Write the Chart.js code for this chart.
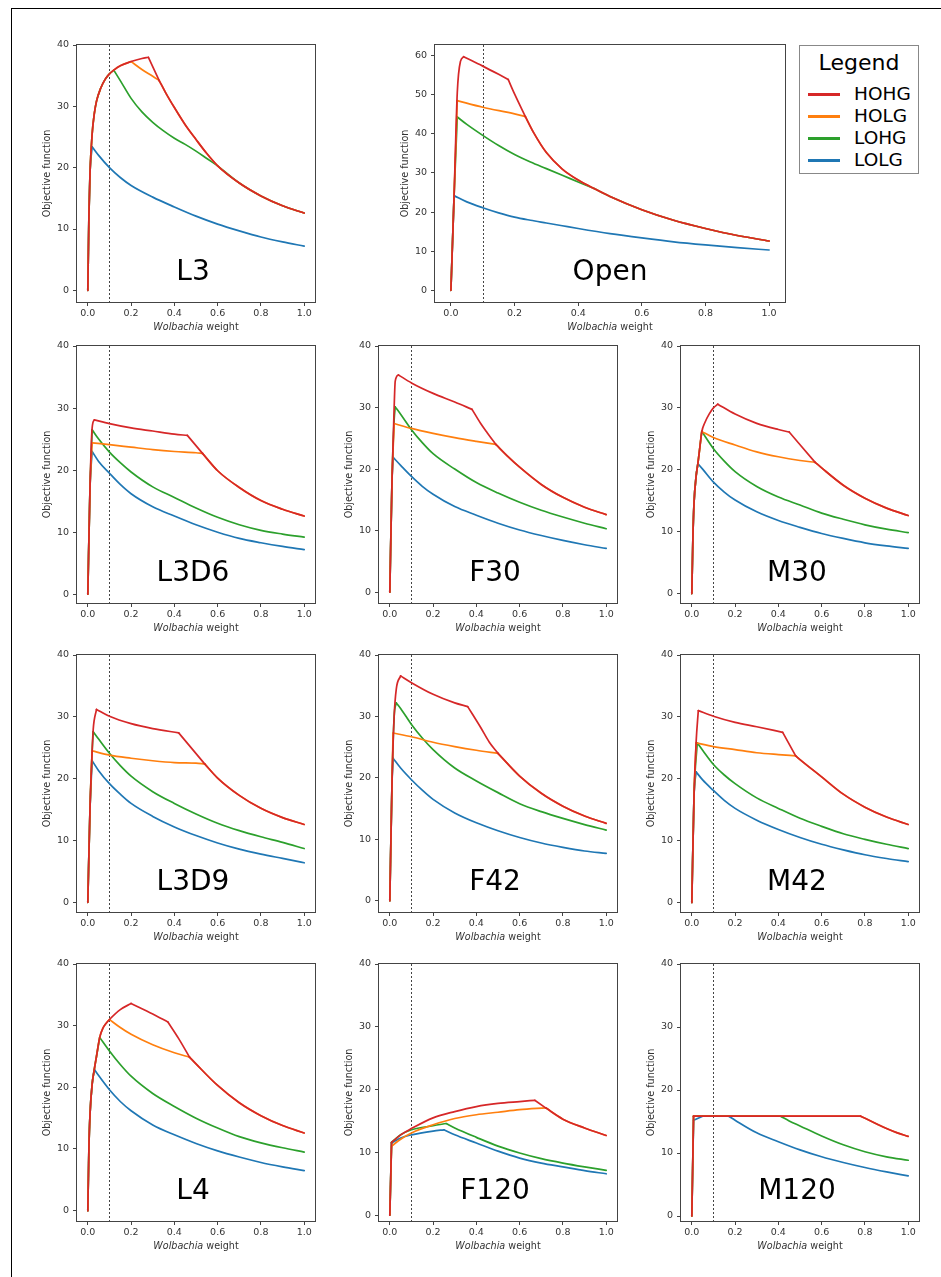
<!DOCTYPE html>
<html><head><meta charset="utf-8">
<script src="https://cdn.jsdelivr.net/npm/chart.js@4.4.1/dist/chart.umd.min.js"></script>
<style>
html,body{margin:0;padding:0;background:#fff;width:941px;height:1277px;overflow:hidden;font-family:'DejaVu Sans',sans-serif;position:relative;}
#frame{position:absolute;left:11px;top:8px;width:940px;height:1280px;border-top:1px solid #000;border-left:1px solid #000;}
canvas{position:absolute;}
.lbl{position:absolute;transform:translate(-50%,-50%);font-size:28px;line-height:1;white-space:nowrap;color:#000;}
.xt{position:absolute;transform:translate(-50%,-50%);font-size:9.6px;line-height:1;white-space:nowrap;color:#333;}
#legend{position:absolute;left:799px;top:45px;width:118px;height:127px;border:1px solid #888;background:#fff;}
.lgt{position:absolute;left:0;width:100%;text-align:center;transform:translateY(-50%);font-size:22px;line-height:1;color:#000;}
.lgl{position:absolute;left:8px;width:32px;height:3px;margin-top:-1.5px;}
.lgx{position:absolute;left:54px;font-size:18.5px;line-height:1;transform:translateY(-50%);color:#000;}
</style></head><body>
<div id="frame"></div>
<script>
// ---------- data ----------
const panelNames = ['L3','Open','L3D6','F30','M30','L3D9','F42','M42','L4','F120','M120'];
const seriesNames = ['HOHG','HOLG','LOHG','LOLG'];
const seriesColors = ['#d62728','#ff7f0e','#2ca02c','#1f77b4'];
const xTicks = [0, 0.2, 0.4, 0.6, 0.8, 1.0];
const yTicks40 = [0, 10, 20, 30, 40];
const yTicksOpen = [0, 10, 20, 30, 40, 50, 60];
const xMin = -0.05, xMax = 1.05;
const yMins = [-1.9, -2.99, -1.41, -1.77, -1.53, -1.56, -1.83, -1.55, -1.68, -0.92, -0.79];
const yMaxs = [40, 62.7, 40, 40, 40, 40, 40, 40, 40, 40, 40];
const markerX = 0.1;

const L3_HOHG = [[0,0],[0.005,12],[0.01,19],[0.02,25.5],[0.03,28.8],[0.04,30.8],[0.06,33.0],[0.08,34.4],[0.1,35.3],[0.12,35.9],[0.15,36.6],[0.2,37.3],[0.25,37.8],[0.28,38.0],[0.33,34.2],[0.36,32.2],[0.4,29.8],[0.45,27.0],[0.5,24.6],[0.55,22.3],[0.6,20.3],[0.7,17.5],[0.8,15.4],[0.9,13.8],[1.0,12.6]];
const L3_HOLG = [[0,0],[0.005,12],[0.01,19],[0.02,25.5],[0.03,28.8],[0.04,30.8],[0.06,33.0],[0.08,34.4],[0.1,35.3],[0.12,35.9],[0.15,36.6],[0.2,37.3],[0.25,36.0],[0.3,34.9],[0.33,34.2],[0.36,32.2],[0.4,29.8],[0.45,27.0],[0.5,24.6],[0.55,22.3],[0.6,20.3],[0.7,17.5],[0.8,15.4],[0.9,13.8],[1.0,12.6]];
const L3_LOHG = [[0,0],[0.005,12],[0.01,19],[0.02,25.5],[0.03,28.8],[0.04,30.8],[0.06,33.0],[0.08,34.4],[0.1,35.3],[0.12,35.9],[0.15,34.2],[0.2,31.3],[0.25,29.1],[0.3,27.4],[0.35,26.0],[0.4,24.8],[0.45,23.8],[0.5,22.7],[0.55,21.5],[0.6,20.3],[0.7,17.5],[0.8,15.4],[0.9,13.8],[1.0,12.6]];
const L3_LOLG = [[0,0],[0.005,12],[0.01,19],[0.02,23.4],[0.05,22.0],[0.1,20.0],[0.15,18.4],[0.2,17.1],[0.3,15.2],[0.4,13.6],[0.5,12.1],[0.6,10.8],[0.7,9.7],[0.8,8.7],[0.9,7.9],[1.0,7.2]];

const Open_HOHG = [[0,0],[0.01,24.2],[0.02,50.5],[0.03,58.5],[0.04,59.7],[0.1,57.3],[0.15,55.2],[0.18,53.9],[0.2,50.2],[0.234,44.4],[0.26,40.3],[0.3,35.2],[0.35,31.0],[0.4,28.2],[0.45,26.0],[0.5,24.0],[0.6,20.6],[0.7,17.9],[0.8,15.8],[0.9,14.0],[1.0,12.6]];
const Open_HOLG = [[0,0],[0.01,24.2],[0.02,48.5],[0.1,46.8],[0.2,45.1],[0.234,44.4],[0.26,40.3],[0.3,35.2],[0.35,31.0],[0.4,28.2],[0.45,26.0],[0.5,24.0],[0.6,20.6],[0.7,17.9],[0.8,15.8],[0.9,14.0],[1.0,12.6]];
const Open_LOHG = [[0,0],[0.01,24.2],[0.02,44.3],[0.05,42.4],[0.1,39.6],[0.15,37.0],[0.2,34.7],[0.25,32.8],[0.3,31.1],[0.35,29.4],[0.4,27.7],[0.45,26.0],[0.5,24.0],[0.6,20.6],[0.7,17.9],[0.8,15.8],[0.9,14.0],[1.0,12.6]];
const Open_LOLG = [[0,0],[0.01,24.2],[0.05,22.6],[0.1,21.1],[0.15,19.8],[0.2,18.7],[0.25,17.9],[0.3,17.2],[0.35,16.5],[0.4,15.8],[0.5,14.5],[0.6,13.4],[0.7,12.4],[0.8,11.6],[0.9,10.9],[1.0,10.3]];

const L3D6_HOHG = [[0,0],[0.01,17],[0.02,26.8],[0.03,28.1],[0.1,27.5],[0.2,26.8],[0.3,26.3],[0.4,25.8],[0.46,25.6],[0.53,22.7],[0.6,19.9],[0.7,17.2],[0.8,15.1],[0.9,13.7],[1.0,12.6]];
const L3D6_HOLG = [[0,0],[0.01,17],[0.02,24.4],[0.1,24.1],[0.2,23.7],[0.3,23.3],[0.4,23.0],[0.5,22.8],[0.53,22.7],[0.6,19.9],[0.7,17.2],[0.8,15.1],[0.9,13.7],[1.0,12.6]];
const L3D6_LOHG = [[0,0],[0.01,17],[0.02,26.5],[0.05,25.0],[0.1,22.9],[0.15,21.2],[0.2,19.7],[0.3,17.3],[0.4,15.6],[0.5,13.9],[0.6,12.4],[0.7,11.2],[0.8,10.3],[0.9,9.7],[1.0,9.2]];
const L3D6_LOLG = [[0,0],[0.01,17],[0.02,23.0],[0.05,21.4],[0.1,19.5],[0.15,17.7],[0.2,16.2],[0.3,14.1],[0.4,12.6],[0.5,11.2],[0.6,10.0],[0.7,9.0],[0.8,8.3],[0.9,7.7],[1.0,7.2]];

const F30_HOHG = [[0,0],[0.01,18],[0.02,30],[0.025,34.3],[0.04,35.3],[0.1,34.0],[0.2,32.3],[0.3,30.9],[0.38,29.7],[0.42,27.4],[0.45,25.9],[0.49,24.0],[0.55,21.9],[0.6,20.3],[0.7,17.5],[0.8,15.4],[0.9,13.8],[1.0,12.6]];
const F30_HOLG = [[0,0],[0.01,18],[0.02,27.4],[0.1,26.6],[0.2,25.8],[0.3,25.1],[0.4,24.5],[0.49,24.0],[0.55,21.9],[0.6,20.3],[0.7,17.5],[0.8,15.4],[0.9,13.8],[1.0,12.6]];
const F30_LOHG = [[0,0],[0.01,18],[0.02,28.0],[0.025,30.1],[0.05,28.9],[0.1,26.4],[0.15,24.3],[0.2,22.5],[0.3,20.0],[0.4,17.8],[0.5,16.1],[0.6,14.6],[0.7,13.3],[0.8,12.2],[0.9,11.2],[1.0,10.3]];
const F30_LOLG = [[0,0],[0.01,18],[0.015,21.9],[0.05,20.6],[0.1,18.8],[0.15,17.2],[0.2,15.9],[0.3,13.9],[0.4,12.5],[0.5,11.2],[0.6,10.1],[0.7,9.2],[0.8,8.4],[0.9,7.7],[1.0,7.1]];

const M30_HOHG = [[0,0],[0.005,9],[0.01,14.5],[0.02,19.0],[0.028,21.0],[0.035,23.0],[0.046,26.1],[0.06,27.6],[0.08,29.0],[0.1,30.0],[0.12,30.6],[0.2,29.0],[0.3,27.5],[0.4,26.5],[0.45,26.1],[0.57,21.2],[0.6,20.3],[0.7,17.5],[0.8,15.4],[0.9,13.8],[1.0,12.6]];
const M30_HOLG = [[0,0],[0.005,9],[0.01,14.5],[0.02,19.0],[0.028,21.0],[0.035,23.0],[0.046,26.2],[0.1,25.2],[0.2,24.0],[0.3,22.9],[0.4,22.1],[0.5,21.5],[0.57,21.2],[0.6,20.3],[0.7,17.5],[0.8,15.4],[0.9,13.8],[1.0,12.6]];
const M30_LOHG = [[0,0],[0.005,9],[0.01,14.5],[0.02,19.0],[0.028,21.0],[0.035,23.0],[0.046,26.2],[0.1,23.4],[0.15,21.4],[0.2,19.7],[0.3,17.3],[0.4,15.6],[0.5,14.3],[0.6,13.0],[0.7,12.0],[0.8,11.1],[0.9,10.4],[1.0,9.85]];
const M30_LOLG = [[0,0],[0.005,9],[0.01,14.5],[0.02,19.0],[0.028,21.0],[0.05,20.1],[0.1,18.0],[0.15,16.4],[0.2,15.1],[0.3,13.2],[0.4,11.8],[0.5,10.7],[0.6,9.7],[0.7,8.9],[0.8,8.2],[0.9,7.7],[1.0,7.3]];

const L3D9_HOHG = [[0,0],[0.01,15],[0.02,24.5],[0.025,28.0],[0.04,31.2],[0.1,30.1],[0.2,28.9],[0.3,28.1],[0.42,27.4],[0.54,22.4],[0.6,20.1],[0.7,17.3],[0.8,15.2],[0.9,13.7],[1.0,12.6]];
const L3D9_HOLG = [[0,0],[0.01,15],[0.02,24.5],[0.1,23.8],[0.2,23.3],[0.3,22.9],[0.4,22.6],[0.5,22.5],[0.54,22.4],[0.6,20.1],[0.7,17.3],[0.8,15.2],[0.9,13.7],[1.0,12.6]];
const L3D9_LOHG = [[0,0],[0.01,15],[0.02,24.5],[0.025,27.6],[0.05,26.4],[0.1,24.1],[0.15,22.1],[0.2,20.4],[0.3,17.9],[0.4,16.0],[0.5,14.3],[0.6,12.8],[0.7,11.6],[0.8,10.6],[0.9,9.7],[1.0,8.7]];
const L3D9_LOLG = [[0,0],[0.01,15],[0.02,22.9],[0.05,21.3],[0.1,19.2],[0.15,17.5],[0.2,16.0],[0.3,13.9],[0.4,12.2],[0.5,10.8],[0.6,9.6],[0.7,8.6],[0.8,7.8],[0.9,7.1],[1.0,6.4]];

const F42_HOHG = [[0,0],[0.01,19],[0.02,30],[0.03,34.5],[0.05,36.6],[0.1,35.5],[0.2,33.6],[0.3,32.2],[0.36,31.6],[0.42,28.2],[0.46,25.8],[0.5,24.0],[0.6,20.3],[0.7,17.5],[0.8,15.4],[0.9,13.8],[1.0,12.6]];
const F42_HOLG = [[0,0],[0.01,19],[0.015,27.3],[0.1,26.7],[0.2,25.8],[0.3,25.1],[0.4,24.5],[0.5,24.0],[0.6,20.3],[0.7,17.5],[0.8,15.4],[0.9,13.8],[1.0,12.6]];
const F42_LOHG = [[0,0],[0.01,19],[0.02,30],[0.03,32.2],[0.05,31.3],[0.1,28.7],[0.15,26.5],[0.2,24.6],[0.3,21.6],[0.4,19.5],[0.5,17.6],[0.6,15.8],[0.7,14.5],[0.8,13.4],[0.9,12.4],[1.0,11.5]];
const F42_LOLG = [[0,0],[0.01,19],[0.015,23.2],[0.05,21.6],[0.1,19.7],[0.15,18.0],[0.2,16.5],[0.3,14.3],[0.4,12.7],[0.5,11.4],[0.6,10.3],[0.7,9.4],[0.8,8.7],[0.9,8.1],[1.0,7.7]];

const M42_HOHG = [[0,0],[0.01,17],[0.02,26.0],[0.03,31.0],[0.1,30.1],[0.2,29.1],[0.3,28.4],[0.42,27.5],[0.48,23.7],[0.5,23.1],[0.6,20.3],[0.7,17.5],[0.8,15.4],[0.9,13.8],[1.0,12.6]];
const M42_HOLG = [[0,0],[0.01,17],[0.02,25.8],[0.1,25.2],[0.2,24.7],[0.3,24.2],[0.4,23.9],[0.48,23.7],[0.5,23.1],[0.6,20.3],[0.7,17.5],[0.8,15.4],[0.9,13.8],[1.0,12.6]];
const M42_LOHG = [[0,0],[0.01,17],[0.025,25.8],[0.05,24.6],[0.1,22.3],[0.15,20.6],[0.2,19.2],[0.3,16.9],[0.4,15.2],[0.5,13.6],[0.6,12.3],[0.7,11.1],[0.8,10.2],[0.9,9.4],[1.0,8.7]];
const M42_LOLG = [[0,0],[0.01,17],[0.02,21.1],[0.05,19.8],[0.1,18.1],[0.15,16.5],[0.2,15.2],[0.3,13.3],[0.4,11.8],[0.5,10.5],[0.6,9.4],[0.7,8.5],[0.8,7.7],[0.9,7.1],[1.0,6.6]];

const L4_HOHG = [[0,0],[0.005,10],[0.01,15.5],[0.02,20.5],[0.03,22.9],[0.04,25.0],[0.055,28.1],[0.07,29.6],[0.085,30.4],[0.1,31.0],[0.15,32.6],[0.2,33.6],[0.3,31.9],[0.37,30.6],[0.42,27.9],[0.47,24.9],[0.5,23.8],[0.6,20.3],[0.7,17.5],[0.8,15.4],[0.9,13.8],[1.0,12.6]];
const L4_HOLG = [[0,0],[0.005,10],[0.01,15.5],[0.02,20.5],[0.03,22.9],[0.04,25.0],[0.055,28.1],[0.07,29.6],[0.085,30.4],[0.1,31.0],[0.15,29.7],[0.2,28.6],[0.3,26.9],[0.4,25.6],[0.47,24.9],[0.5,23.8],[0.6,20.3],[0.7,17.5],[0.8,15.4],[0.9,13.8],[1.0,12.6]];
const L4_LOHG = [[0,0],[0.005,10],[0.01,15.5],[0.02,20.5],[0.03,22.9],[0.04,25.0],[0.055,28.1],[0.1,25.9],[0.15,23.7],[0.2,21.8],[0.3,19.0],[0.4,16.9],[0.5,15.0],[0.6,13.4],[0.7,12.0],[0.8,11.0],[0.9,10.2],[1.0,9.5]];
const L4_LOLG = [[0,0],[0.005,10],[0.01,15.5],[0.02,20.5],[0.03,22.9],[0.05,21.9],[0.1,19.6],[0.15,17.7],[0.2,16.2],[0.3,13.9],[0.4,12.3],[0.5,10.9],[0.6,9.7],[0.7,8.7],[0.8,7.8],[0.9,7.1],[1.0,6.5]];

const F120_HOHG = [[0,0],[0.008,11.6],[0.05,12.8],[0.1,13.8],[0.2,15.5],[0.3,16.5],[0.4,17.3],[0.5,17.8],[0.6,18.1],[0.67,18.3],[0.72,17.1],[0.8,15.3],[0.9,13.9],[1.0,12.7]];
const F120_HOLG = [[0,0],[0.008,11.0],[0.05,12.1],[0.1,13.1],[0.2,14.4],[0.3,15.4],[0.4,16.0],[0.5,16.4],[0.6,16.8],[0.72,17.1],[0.8,15.3],[0.9,13.9],[1.0,12.7]];
const F120_LOHG = [[0,0],[0.008,11.6],[0.05,12.8],[0.1,13.6],[0.2,14.25],[0.26,14.6],[0.3,13.9],[0.4,12.4],[0.5,11.0],[0.6,9.9],[0.7,9.0],[0.8,8.3],[0.9,7.7],[1.0,7.15]];
const F120_LOLG = [[0,0],[0.008,11.5],[0.05,12.3],[0.1,12.8],[0.2,13.4],[0.25,13.6],[0.3,12.8],[0.4,11.5],[0.5,10.2],[0.6,9.1],[0.7,8.3],[0.8,7.7],[0.9,7.1],[1.0,6.6]];

const M120_HOHG = [[0,0],[0.008,15.85],[0.78,15.85],[0.85,14.7],[0.9,13.9],[0.95,13.2],[1.0,12.65]];
const M120_HOLG = [[0,0],[0.008,15.85],[0.78,15.85],[0.85,14.7],[0.9,13.9],[0.95,13.2],[1.0,12.65]];
const M120_LOHG = [[0,0],[0.008,15.85],[0.41,15.85],[0.45,15.1],[0.5,14.3],[0.6,12.7],[0.7,11.3],[0.8,10.2],[0.9,9.4],[1.0,8.85]];
const M120_LOLG = [[0,0],[0.008,15.2],[0.05,15.85],[0.17,15.85],[0.2,15.2],[0.3,13.2],[0.4,11.8],[0.5,10.5],[0.6,9.4],[0.7,8.5],[0.8,7.7],[0.9,7.0],[1.0,6.36]];

// x positions of sharp corners of each curve (HOHG, HOLG, LOHG, LOLG)
const L3_kinks   = [[0.28,0.33],[0.2,0.33],[0.12,0.6],[0.02]];
const Open_kinks = [[0.04,0.18,0.234],[0.02,0.234],[0.02,0.45],[0.01]];
const L3D6_kinks = [[0.03,0.46,0.53],[0.02,0.53],[0.02],[0.02]];
const F30_kinks  = [[0.04,0.38,0.49],[0.02,0.49],[0.025],[0.015]];
const M30_kinks  = [[0.12,0.45,0.57],[0.046,0.57],[0.046],[0.028]];
const L3D9_kinks = [[0.04,0.42,0.54],[0.02,0.54],[0.025],[0.02]];
const F42_kinks  = [[0.05,0.36,0.5],[0.015,0.5],[0.03],[0.015]];
const M42_kinks  = [[0.03,0.42,0.48],[0.02,0.48],[0.025],[0.02]];
const L4_kinks   = [[0.2,0.37,0.47],[0.1,0.47],[0.055],[0.03]];
const F120_kinks = [[0.008,0.67,0.72],[0.008,0.72],[0.008,0.26],[0.008,0.25]];
const M120_kinks = [[0.008,0.78],[0.008,0.78],[0.008,0.41],[0.008,0.05,0.17]];

const panelSeries = [
  [L3_HOHG, L3_HOLG, L3_LOHG, L3_LOLG],
  [Open_HOHG, Open_HOLG, Open_LOHG, Open_LOLG],
  [L3D6_HOHG, L3D6_HOLG, L3D6_LOHG, L3D6_LOLG],
  [F30_HOHG, F30_HOLG, F30_LOHG, F30_LOLG],
  [M30_HOHG, M30_HOLG, M30_LOHG, M30_LOLG],
  [L3D9_HOHG, L3D9_HOLG, L3D9_LOHG, L3D9_LOLG],
  [F42_HOHG, F42_HOLG, F42_LOHG, F42_LOLG],
  [M42_HOHG, M42_HOLG, M42_LOHG, M42_LOLG],
  [L4_HOHG, L4_HOLG, L4_LOHG, L4_LOLG],
  [F120_HOHG, F120_HOLG, F120_LOHG, F120_LOLG],
  [M120_HOHG, M120_HOLG, M120_LOHG, M120_LOLG]
];
const panelKinks = [L3_kinks, Open_kinks, L3D6_kinks, F30_kinks, M30_kinks, L3D9_kinks, F42_kinks, M42_kinks, L4_kinks, F120_kinks, M120_kinks];

// ---------- layout (plot-area left, top, width) ----------
const layout = [[77,45,238],[435,45,350],[77,346,238],[379,346,238],[681,346,238],[77,655,238],[379,655,238],[681,655,238],[77,964,238],[379,964,238],[681,964,238]];
const PLOT_H = 257, YW = 45, PT = 10, PR = 14, XH = 22;

Chart.defaults.font.family = "'DejaVu Sans', sans-serif";
Chart.defaults.color = '#333';

function splitAtKinks(pts, kinks) {
  const pieces = [];
  let cur = [];
  pts.forEach(p => {
    cur.push(p);
    if (cur.length > 1 && kinks.some(k => Math.abs(k - p[0]) < 1e-9)) { pieces.push(cur); cur = [p]; }
  });
  if (cur.length > 1) pieces.push(cur);
  return pieces;
}

const panelDecor = {
  id: 'panelDecor',
  beforeDatasetsDraw(chart) {
    const {ctx, chartArea: a, scales: {x}} = chart;
    const px = Math.round(x.getPixelForValue(markerX)) + 0.5;
    ctx.save();
    ctx.strokeStyle = '#444'; ctx.lineWidth = 1; ctx.setLineDash([2, 2]);
    ctx.beginPath(); ctx.moveTo(px, a.top); ctx.lineTo(px, a.bottom); ctx.stroke();
    ctx.restore();
  },
  afterDraw(chart) {
    const {ctx, chartArea: a} = chart;
    ctx.save();
    ctx.strokeStyle = '#444'; ctx.lineWidth = 1;
    const l = Math.round(a.left) - 0.5, t = Math.round(a.top) - 0.5;
    const r = Math.round(a.right) + 0.5, b = Math.round(a.bottom) + 0.5;
    ctx.strokeRect(l, t, r - l, b - t);
    ctx.restore();
  }
};

panelNames.forEach((name, i) => {
  const [pl, pt, pw] = layout[i];
  const W = YW + pw + PR, H = PT + PLOT_H + XH;
  const cv = document.createElement('canvas');
  cv.width = W; cv.height = H;
  cv.style.left = (pl - YW) + 'px'; cv.style.top = (pt - PT) + 'px';
  cv.style.width = W + 'px'; cv.style.height = H + 'px';
  document.body.appendChild(cv);
  const yT = i === 1 ? yTicksOpen : yTicks40;
  const gridOpt = {display: true, drawOnChartArea: false, drawTicks: true, tickLength: 4, color: '#444', lineWidth: 1};
  const datasets = [];
  seriesNames.forEach((s, k) => {
    splitAtKinks(panelSeries[i][k], panelKinks[i][k]).forEach(piece => {
      datasets.push({
        label: s, order: k,
        data: piece.map(([x, y]) => ({x, y})),
        borderColor: seriesColors[k], backgroundColor: seriesColors[k],
        borderWidth: 1.7, pointRadius: 0, fill: false,
        cubicInterpolationMode: 'monotone',
        borderJoinStyle: 'round', borderCapStyle: 'round'
      });
    });
  });
  new Chart(cv, {
    type: 'line',
    data: {datasets},
    options: {
      responsive: false, animation: false, devicePixelRatio: 1,
      layout: {padding: {left: 0, top: PT, right: PR, bottom: 0}},
      plugins: {legend: {display: false}, tooltip: {enabled: false}, title: {display: false}},
      scales: {
        x: {
          type: 'linear', min: xMin, max: xMax,
          afterFit: s => { s.height = XH; },
          afterBuildTicks: s => { s.ticks = xTicks.map(v => ({value: v})); },
          ticks: {callback: v => Number(v).toFixed(1), padding: 2, maxRotation: 0, autoSkip: false, font: {size: 9.5}, color: '#333'},
          grid: gridOpt, border: {display: false}
        },
        y: {
          type: 'linear', min: yMins[i], max: yMaxs[i],
          afterFit: s => { s.width = YW; },
          afterBuildTicks: s => { s.ticks = yT.map(v => ({value: v})); },
          ticks: {callback: v => String(v), padding: 4, autoSkip: false, font: {size: 9.5}, color: '#333'},
          grid: gridOpt, border: {display: false},
          title: {display: true, text: 'Objective function', padding: {top: 10, bottom: 0}, font: {size: 9.6}, color: '#333'}
        }
      }
    },
    plugins: [panelDecor]
  });

  const xt = document.createElement('div');
  xt.className = 'xt';
  xt.style.left = (pl + pw / 2) + 'px';
  xt.style.top = (pt + PLOT_H + 25) + 'px';
  xt.innerHTML = '<i>Wolbachia</i> weight';
  document.body.appendChild(xt);

  const lb = document.createElement('div');
  lb.className = 'lbl';
  lb.style.left = (pl + (i === 1 ? 175 : 116)) + 'px';
  lb.style.top = (pt + 226) + 'px';
  lb.textContent = name;
  document.body.appendChild(lb);
});

// legend
const lg = document.createElement('div');
lg.id = 'legend';
let html = '<div class="lgt" style="top:17px">Legend</div>';
seriesNames.forEach((s, k) => {
  const cy = 48 + 22 * k;
  html += `<div class="lgl" style="top:${cy}px;background:${seriesColors[k]}"></div><div class="lgx" style="top:${cy}px">${s}</div>`;
});
lg.innerHTML = html;
document.body.appendChild(lg);
</script>
</body></html>
